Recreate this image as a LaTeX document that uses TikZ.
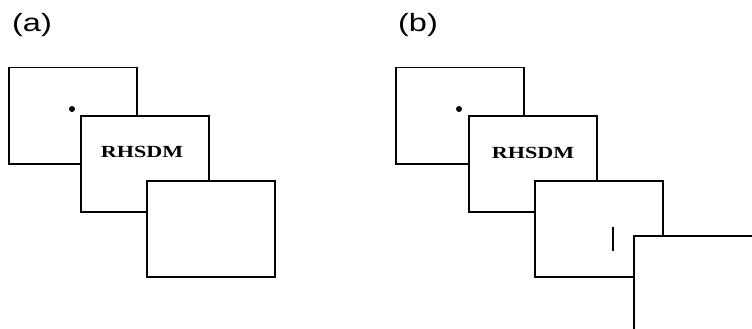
\documentclass[tikz,border=0pt]{standalone}
\usepackage{fontspec}
\usepackage{graphicx}
\setmainfont{Liberation Serif}
\newfontfamily\labelfont{Liberation Sans}
\usetikzlibrary{positioning}

\tikzset{
  screen/.style={draw, line width=1.5pt, fill=white, anchor=north west,
    minimum width=128pt, minimum height=96pt, inner sep=0pt},
  panel/.style={font=\labelfont\fontsize{25}{25}\selectfont, inner sep=0pt},
  cue/.style={font=\bfseries\fontsize{17}{17}\selectfont, inner sep=0pt},
}
\newcommand{\wide}[1]{\scalebox{1.3}[1]{#1}}

\begin{document}
\begin{tikzpicture}[x=1pt,y=-1pt]
\useasboundingbox (0,0) rectangle (752,329);
\clip (0,0) rectangle (752,329);

% panel (a)
\node[panel] (la) at (32,25) {\wide{(a)}};
\node[screen] (a1) at (8,67) {};
\fill (72,109) circle (3pt) coordinate (afix);
\node[screen] (a2) at (80,115) {};
\node[cue] (acue) at (142,152) {\wide{RHSDM}};
\node[screen] (a3) at (146,180) {};

% panel (b)
\node[panel] (lb) at (418,25) {\wide{(b)}};
\node[screen] (b1) at (395,67) {};
\fill (459,109) circle (3pt) coordinate (bfix);
\node[screen] (b2) at (468,115) {};
\node[cue] (bcue) at (533,153) {\wide{RHSDM}};
\node[screen] (b3) at (534,180) {};
\coordinate (bartop) at (613,227);
\coordinate (barbot) at (613,251);
\draw[line width=2.5pt] (bartop) -- (barbot);
\node[screen] (b4) at (633,235) {};
\end{tikzpicture}
\end{document}
